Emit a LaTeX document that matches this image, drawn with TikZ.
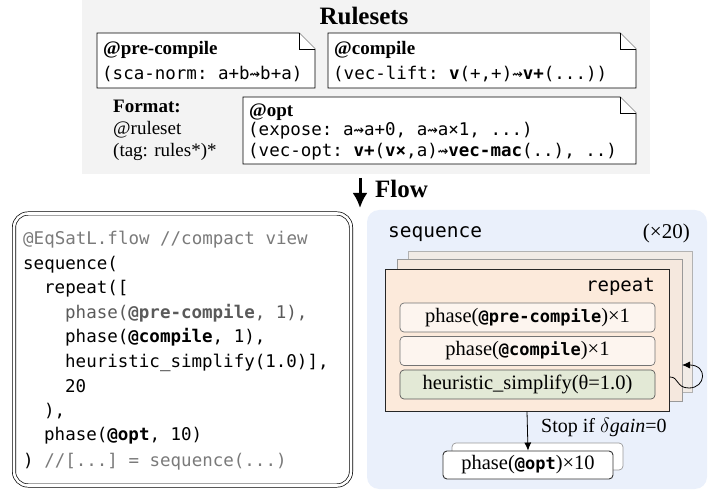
\documentclass[tikz,border=0pt]{standalone}
\usepackage{fontspec}
\setmainfont{Liberation Serif}
\setmonofont{DejaVu Sans Mono}
\usetikzlibrary{arrows.meta}
\definecolor{panelgray}{HTML}{F3F3F3}
\definecolor{panelblue}{HTML}{EAF0FB}
\definecolor{peach}{HTML}{FCEADB}
\definecolor{backA}{HTML}{F5E8DE}
\definecolor{backB}{HTML}{F1EBE6}
\definecolor{phasefill}{HTML}{FDF5EF}
\definecolor{heurfill}{HTML}{E3E9D6}
\definecolor{codegray}{HTML}{7A7A7A}
\definecolor{codemid}{HTML}{5A5A5A}
\newcommand\sqa{⇝}
\newcommand\dogear[4]{%
  \draw[rulefr] (#1,#2) -- ({#3-16},#2) -- (#3,{#2+16}) -- (#3,#4) -- (#1,#4) -- cycle;
  \draw[rulefr] ({#3-16},#2) -- ({#3-16},{#2+16}) -- (#3,{#2+16});}
\begin{document}
\begin{tikzpicture}[x=1pt,y=-1pt,
  tx/.style={inner sep=0pt, anchor=base west},
  txe/.style={inner sep=0pt, anchor=base east},
  txc/.style={inner sep=0pt, anchor=base},
  serifB/.style={font=\fontsize{19}{22}\selectfont\bfseries},
  serifR/.style={font=\fontsize{19}{22}\selectfont},
  monoR/.style={font=\fontsize{17.5}{20}\selectfont\ttfamily},
  codeln/.style={tx, monoR},
  rulefr/.style={draw=black, line width=0.9pt, fill=white, line join=miter},
  panel/.style={draw=none, inner sep=0pt},
  phasebox/.style={draw=black!55, line width=0.7pt, rounded corners=4pt, fill=phasefill,
     minimum width=255pt, minimum height=29pt, inner sep=0pt, font=\fontsize{20.5}{22}\selectfont},
  arr/.style={-{Latex[length=8pt,width=7pt]}, line width=0.8pt}
]
\useasboundingbox (0,0) rectangle (710,494);
% ---------- Rulesets panel
\node[panel, fill=panelgray, minimum width=568pt, minimum height=174pt] (rulesets) at (366,87) {};
\node[txc, font=\fontsize{25}{27}\selectfont\bfseries] (title) at (364,25) {Rulesets};
\dogear{97}{33}{315}{88}
\dogear{328}{33}{636}{88}
\dogear{243}{97}{636}{164}
\node[tx, serifB] (pcname) at (103,55) {@pre-compile};
\node[tx, monoR] (pcrule) at (102,80) {(sca-norm: a+b\sqa b+a)};
\node[tx, serifB] (cname) at (334,55) {@compile};
\node[tx, monoR] (crule) at (333,80) {(vec-lift: \textbf{v}(+,+)\sqa\textbf{v+}(...))};
\node[tx, serifB] (oname) at (249,117) {@opt};
\node[tx, monoR] (orule1) at (248,136) {(expose: a\sqa a+0, a\sqa a×1, ...)};
\node[tx, monoR] (orule2) at (248,157) {(vec-opt: \textbf{v+}(\textbf{v×},a)\sqa\textbf{vec-mac}(..), ..)};
\node[tx, serifB] (fmt) at (113,113) {Format:};
\node[tx, serifR] (fmt1) at (113,135) {@ruleset};
\node[tx, serifR] (fmt2) at (113,157) {(tag: rules*)*};
% ---------- Flow arrow
\coordinate (f1) at (360,178);
\coordinate (f2) at (360,208);
\draw[line width=3pt, -{Latex[length=15pt,width=15pt]}] (f1) -- (f2);
\node[tx, font=\fontsize{25}{27}\selectfont\bfseries] (flow) at (375,198) {Flow};
% ---------- Code box
\node[draw=black, line width=0.7pt, double=white, double distance=2.6pt, rounded corners=14pt,
      minimum width=337pt, minimum height=272pt, inner sep=0pt] (code) at (182.5,349.5) {};
\node[codeln] (c1) at (23,245) {\color{codegray}@EqSatL.flow //compact view};
\node[codeln] (c2) at (23,270) {sequence(};
\node[codeln] (c3) at (44,294) {repeat([};
\node[codeln] (c4) at (65,319) {\color{codemid}phase(\textbf{@pre-compile}, 1),};
\node[codeln] (c5) at (65,343) {phase(\textbf{@compile}, 1),};
\node[codeln] (c6) at (65,368) {heuristic\_simplify(1.0)],};
\node[codeln] (c7) at (65,392) {20};
\node[codeln] (c8) at (44,417) {),};
\node[codeln] (c9) at (44,441) {phase(\textbf{@opt}, 10)};
\node[codeln] (c10) at (23,466) {) {\color{codegray}//[...] = sequence(...)}};
% ---------- Flow panel
\node[panel, fill=panelblue, rounded corners=12pt, minimum width=340pt, minimum height=279pt] (seq) at (537,349.5) {};
\node[tx, font=\fontsize{19.5}{22}\selectfont\ttfamily] (seqlbl) at (388,238) {sequence};
\node[txe, font=\fontsize{21}{23}\selectfont] (times) at (690,239) {(×20)};
\node[draw=black!30, fill=backB, line width=0.8pt, minimum width=284pt, minimum height=141pt, inner sep=0pt] (rep2) at (550,321.5) {};
\node[draw=black!40, fill=backA, line width=0.8pt, minimum width=285pt, minimum height=142pt, inner sep=0pt] (rep1) at (539.5,330) {};
\node[draw=black!85, fill=peach, line width=0.9pt, minimum width=284pt, minimum height=142pt, inner sep=0pt] (rep) at (527,340) {};
\node[txe, font=\fontsize{19}{22}\selectfont\ttfamily] (replbl) at (655,292) {repeat};
\node[phasebox] (ph1) at (527.5,317.5) {phase(\texttt{\fontsize{17}{20}\selectfont\bfseries @pre-compile})×1};
\node[phasebox] (ph2) at (527.5,351) {phase(\texttt{\fontsize{17}{20}\selectfont\bfseries @compile})×1};
\node[phasebox, fill=heurfill, draw=black!65] (ph3) at (527.5,384.5) {heuristic\_simplify(θ=1.0)};
\coordinate (loopA) at (670,377);
\coordinate (loopB) at (682,365);
\draw[arr] (loopA) .. controls (679,377) and (676,388) .. (689,388) .. controls (706,388) and (708,365) .. (loopB);
% opt phase
\node[draw=black!40, fill=white, line width=0.7pt, rounded corners=4pt, minimum width=171pt, minimum height=27pt, inner sep=0pt] (opt2) at (537.5,456.5) {};
\node[draw=black!80, fill=white, line width=0.9pt, rounded corners=4pt, minimum width=170pt, minimum height=28pt, inner sep=0pt, font=\fontsize{20.5}{22}\selectfont] (opt) at (528,465) {phase(\texttt{\fontsize{17}{20}\selectfont\bfseries @opt})×10};
\draw[arr] (rep.south) -- (opt.north);
\node[tx, font=\fontsize{20}{22}\selectfont] (stop) at (541,432) {Stop if $\delta$\textit{gain}=0};
\end{tikzpicture}
\end{document}
